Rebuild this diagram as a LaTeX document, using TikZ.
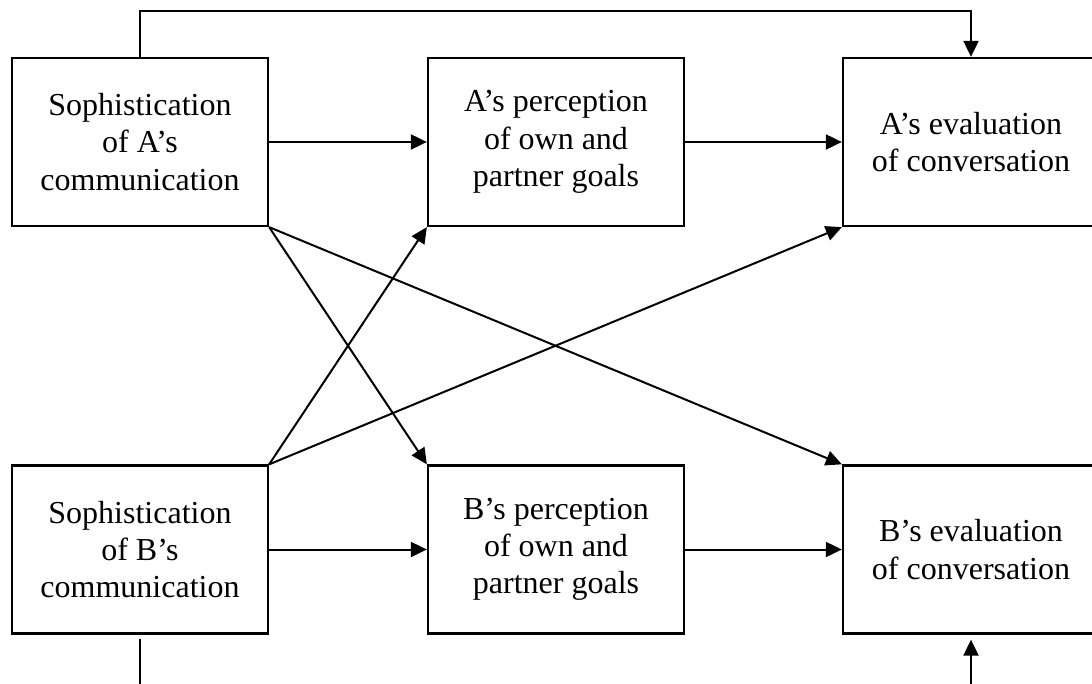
\documentclass[tikz,border=0pt]{standalone}
\usepackage{fontspec}
\setmainfont{Liberation Serif}
\usetikzlibrary{arrows.meta}
\begin{document}
\begin{tikzpicture}[x=0.5pt,y=-0.5pt,
  box/.style={draw, line width=1.15pt, minimum width=128pt, minimum height=84pt, inner sep=0pt,
    align=center, font=\fontsize{16}{18.6}\selectfont},
  conn/.style={line width=1pt},
  arr/.style={conn, -{Triangle[length=8pt,width=7.5pt]}}]
\clip (0,0) rectangle (1092,684);
\fill[white] (0,0) rectangle (1092,684);
\node[box] (sa) at (140,142) {Sophistication\\of A’s\\communication};
\node[box] (pa) at (556,142) {A’s perception\\of own and\\partner goals};
\node[box] (ea) at (971,142) {A’s evaluation\\of conversation};
\node[box] (sb) at (140,549.5) {Sophistication\\of B’s\\communication};
\node[box] (pb) at (556,549.5) {B’s perception\\of own and\\partner goals};
\node[box] (eb) at (971,549.5) {B’s evaluation\\of conversation};
\coordinate (top) at (556,11);
\coordinate (bot) at (556,690);
\draw[arr] (sa.north) -- (sa.north |- top) -| (ea.north);
\draw[arr] (sa.east) -- (pa.west);
\draw[arr] (pa.east) -- (ea.west);
\draw[arr] (sb.east) -- (pb.west);
\draw[arr] (pb.east) -- (eb.west);
\draw[arr] (sa.south east) -- (pb.north west);
\draw[arr] (sa.south east) -- (eb.north west);
\draw[arr] (sb.north east) -- (pa.south west);
\draw[arr] (sb.north east) -- (ea.south west);
\draw[conn, shorten <=2pt] (sb.south) -- (sb.south |- bot);
\draw[arr, shorten >=2.5pt] (eb.south |- bot) -- (eb.south);
\end{tikzpicture}
\end{document}
